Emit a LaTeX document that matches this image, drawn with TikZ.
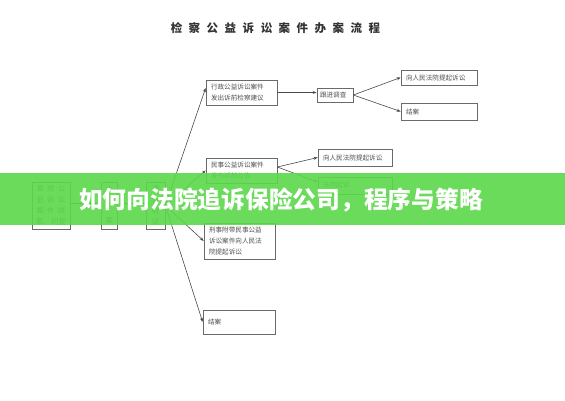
\documentclass[tikz,border=0pt]{standalone}
\usepackage{fontspec}
\newfontfamily\cjk{Noto Sans CJK SC}
\usetikzlibrary{arrows.meta}
\definecolor{boxc}{HTML}{6A6A6A}
\definecolor{txtc}{HTML}{505050}
\definecolor{linec}{HTML}{4A4A4A}
\definecolor{bannerc}{HTML}{5CD84A}
\newcommand\tsp{\hspace{6.5pt}}
\newcommand\lsp{\hspace{3.2pt}}
\begin{document}
\begin{tikzpicture}[x=1pt,y=-1pt,
  bx/.style={draw=boxc, line width=0.7pt, inner xsep=5pt, inner ysep=0pt, align=left,
    font=\cjk\fontsize{6.6}{10.8}\selectfont, text=txtc, anchor=center},
  vbx/.style={draw=boxc, line width=0.7pt, inner sep=0pt, align=center,
    font=\cjk\fontsize{7.5}{11}\selectfont, text=txtc, anchor=center},
  ln/.style={draw=linec, line width=0.6pt},
  arr/.style={ln, -{Stealth[length=4pt,width=3pt]}}]
\useasboundingbox (0,0) rectangle (565,400);
\fill[white] (0,0) rectangle (565,400);
% title
\node[font=\cjk\bfseries\fontsize{11.5}{12}\selectfont, text=black!80] (title) at (275.5,28.5)
  {检\tsp 察\tsp 公\tsp 益\tsp 诉\tsp 讼\tsp 案\tsp 件\tsp 办\tsp 案\tsp 流\tsp 程};
% left column
\node[vbx, minimum width=38pt, minimum height=47pt] (fx) at (51,205.5)
  {发\lsp 现\lsp 公\\益\lsp 诉\lsp 讼\\案\lsp 件\lsp 线\\索、初查};
\node[vbx, minimum width=16pt, minimum height=47pt] (la) at (109,205.5) {立\\[20pt]案};
\node[vbx, minimum width=19pt, minimum height=47pt] (dc) at (155.5,205.5) {调\\查\\取\\证};
% second column
\node[bx, text width=61pt, minimum height=25pt] (xz) at (241.5,92.5) {行政公益诉讼案件\\发出诉前检察建议};
\node[bx, text width=61pt, minimum height=25pt] (ms) at (241.5,170.5) {民事公益诉讼案件\\发布诉前公告};
\node[bx, text width=61pt, minimum height=36pt] (xs) at (239.5,241) {刑事附带民事公益\\诉讼案件向人民法\\院提起诉讼};
\node[bx, text width=62pt, minimum height=24pt] (ja2) at (239,322) {结案};
% third column
\node[bx, inner xsep=3pt, text width=30pt, minimum height=14pt] (gj) at (335,95) {跟进调查};
\node[bx, text width=64pt, minimum height=17pt] (sx2) at (355,157.5) {向人民法院提起诉讼};
\node[bx, text width=64pt, minimum height=17pt] (zc) at (355,185.5) {支持起诉};
% fourth column
\node[bx, text width=66pt, minimum height=15pt] (sx1) at (439,77.5) {向人民法院提起诉讼};
\node[bx, text width=66pt, minimum height=17pt] (ja1) at (439,111.5) {结案};
% connectors
\draw[ln] ([yshift=2.5pt]fx.east) -- ([yshift=2.5pt]la.west);
\draw[ln] ([yshift=2.5pt]la.east) -- ([yshift=2.5pt]dc.west);
\draw[arr] (dc.east) -- ([yshift=4.5pt]xz.west);
\draw[arr] (dc.east) -- (ms.west);
\draw[arr] (dc.east) -- (xs.west);
\draw[arr] (dc.east) -- (ja2.west);
\draw[arr] (xz.east) -- (xz.east -| gj.west);
\draw[arr] (gj.east) -- (sx1.west);
\draw[arr] (gj.east) -- (ja1.west);
\draw[arr] ([yshift=3.5pt]ms.east) -- (sx2.west);
\draw[arr] ([yshift=3.5pt]ms.east) -- ([yshift=3.5pt]zc.west);
% banner
\fill[bannerc, fill opacity=0.9] (0,173) rectangle (565,225);
\node[font=\cjk\bfseries\fontsize{23.75}{26}\selectfont, text=white, inner sep=0pt] (banner) at (281,200)
  {如何向法院追诉保险公司，程序与策略};
\end{tikzpicture}
\end{document}
